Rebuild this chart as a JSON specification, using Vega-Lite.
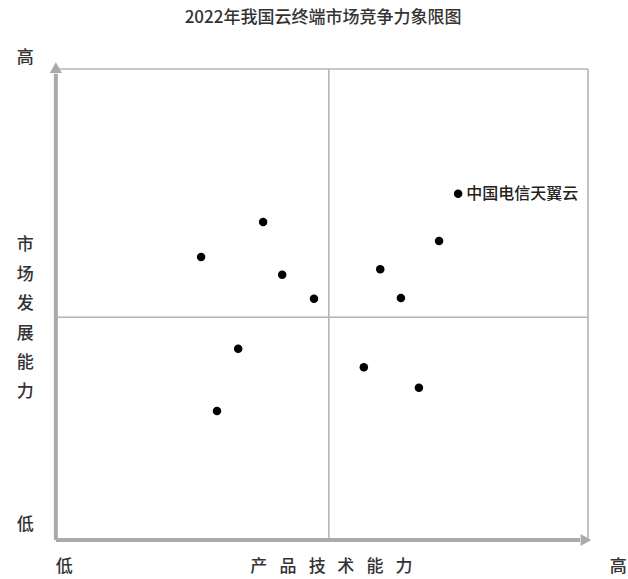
{
  "$schema": "https://vega.github.io/schema/vega-lite/v6.json",
  "width": 530,
  "height": 471,
  "autosize": {"type": "none"},
  "padding": {"left": 58, "top": 69, "right": 40, "bottom": 39},
  "background": "white",
  "config": {
    "view": {"stroke": null},
    "font": "Noto Sans CJK SC",
    "title": {"font": "Noto Sans CJK SC"},
    "text": {"font": "Noto Sans CJK SC"}
  },
  "title": {
    "text": "2022年我国云终端市场竞争力象限图",
    "fontSize": 17,
    "fontWeight": 500,
    "color": "#333333",
    "anchor": "middle",
    "offset": 14,
    "baseline": "middle"
  },
  "datasets": {
    "lines": [
      {"kind": "frame", "x": 0, "y": 100, "x2": 100, "y2": 100},
      {"kind": "frame", "x": 100, "y": 0, "x2": 100, "y2": 100},
      {"kind": "frame", "x": 51.1, "y": 0, "x2": 51.1, "y2": 100},
      {"kind": "frame", "x": 0, "y": 47.3, "x2": 100, "y2": 47.3},
      {"kind": "axis", "x": -0.4, "y": 0, "x2": -0.4, "y2": 99},
      {"kind": "axis", "x": -0.4, "y": 0, "x2": 98.5, "y2": 0}
    ],
    "arrows": [
      {"dir": "up", "x": -0.4, "y": 100.3},
      {"dir": "right", "x": 99.6, "y": 0}
    ],
    "points": [
      {"name": "中国电信天翼云", "x": 75.5, "y": 73.5},
      {"name": "", "x": 38.7, "y": 67.5},
      {"name": "", "x": 27.0, "y": 60.1},
      {"name": "", "x": 71.9, "y": 63.5},
      {"name": "", "x": 42.3, "y": 56.3},
      {"name": "", "x": 60.8, "y": 57.5},
      {"name": "", "x": 48.3, "y": 51.2},
      {"name": "", "x": 64.7, "y": 51.4},
      {"name": "", "x": 34.0, "y": 40.6},
      {"name": "", "x": 57.7, "y": 36.7},
      {"name": "", "x": 68.1, "y": 32.3},
      {"name": "", "x": 30.0, "y": 27.4}
    ],
    "labels": [
      {"t": "高", "x": -6.2, "y": 102.3},
      {"t": "低", "x": -6.2, "y": 3.2},
      {"t": "低", "x": 1.2, "y": -5.7},
      {"t": "高", "x": 105.7, "y": -5.7},
      {"t": "市", "x": -6.2, "y": 62.6},
      {"t": "场", "x": -6.2, "y": 56.3},
      {"t": "发", "x": -6.2, "y": 50.1},
      {"t": "展", "x": -6.2, "y": 43.7},
      {"t": "能", "x": -6.2, "y": 37.6},
      {"t": "力", "x": -6.2, "y": 31.4},
      {"t": "产", "x": 37.9, "y": -5.7},
      {"t": "品", "x": 43.4, "y": -5.7},
      {"t": "技", "x": 48.9, "y": -5.7},
      {"t": "术", "x": 54.3, "y": -5.7},
      {"t": "能", "x": 59.8, "y": -5.7},
      {"t": "力", "x": 65.3, "y": -5.7}
    ]
  },
  "layer": [
    {
      "data": {"name": "lines"},
      "transform": [{"filter": "datum.kind === 'frame'"}],
      "mark": {"type": "rule", "color": "#b4b4b4", "strokeWidth": 1.6},
      "encoding": {
        "x": {"field": "x", "type": "quantitative", "scale": {"domain": [0, 100], "nice": false, "zero": false}, "axis": null},
        "y": {"field": "y", "type": "quantitative", "scale": {"domain": [0, 100], "nice": false, "zero": false}, "axis": null},
        "x2": {"field": "x2"},
        "y2": {"field": "y2"}
      }
    },
    {
      "data": {"name": "lines"},
      "transform": [{"filter": "datum.kind === 'axis'"}],
      "mark": {"type": "rule", "color": "#aaaaaa", "strokeWidth": 4},
      "encoding": {
        "x": {"field": "x", "type": "quantitative"},
        "y": {"field": "y", "type": "quantitative"},
        "x2": {"field": "x2"},
        "y2": {"field": "y2"}
      }
    },
    {
      "data": {"name": "arrows"},
      "mark": {"type": "point", "filled": true, "color": "#aaaaaa", "opacity": 1, "size": 150},
      "encoding": {
        "x": {"field": "x", "type": "quantitative"},
        "y": {"field": "y", "type": "quantitative"},
        "shape": {"field": "dir", "type": "nominal", "scale": {"domain": ["up", "right"], "range": ["triangle-up", "triangle-right"]}, "legend": null}
      }
    },
    {
      "data": {"name": "points"},
      "mark": {"type": "circle", "color": "#000000", "opacity": 1, "size": 72},
      "encoding": {
        "x": {"field": "x", "type": "quantitative"},
        "y": {"field": "y", "type": "quantitative"}
      }
    },
    {
      "data": {"name": "points"},
      "mark": {"type": "text", "align": "left", "baseline": "middle", "dx": 8, "fontSize": 16, "fontWeight": 500, "color": "#222222"},
      "encoding": {
        "x": {"field": "x", "type": "quantitative"},
        "y": {"field": "y", "type": "quantitative"},
        "text": {"field": "name"}
      }
    },
    {
      "data": {"name": "labels"},
      "mark": {"type": "text", "align": "center", "baseline": "middle", "fontSize": 17, "fontWeight": 500, "color": "#333333"},
      "encoding": {
        "x": {"field": "x", "type": "quantitative"},
        "y": {"field": "y", "type": "quantitative"},
        "text": {"field": "t"}
      }
    }
  ]
}
